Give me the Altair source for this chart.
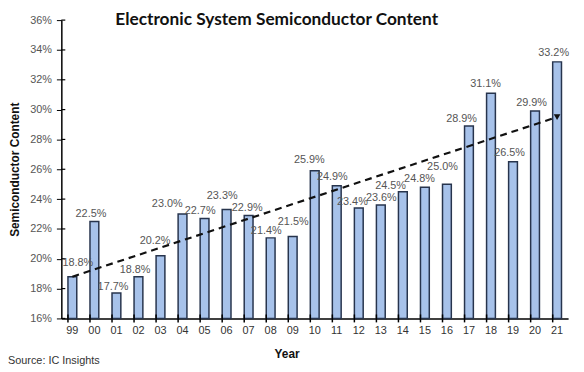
import altair as alt
import pandas as pd

years = ["99", "00", "01", "02", "03", "04", "05", "06", "07", "08", "09", "10",
         "11", "12", "13", "14", "15", "16", "17", "18", "19", "20", "21"]
content = [18.8, 22.5, 17.7, 18.8, 20.2, 23.0, 22.7, 23.3, 22.9, 21.4, 21.5, 25.9,
           24.9, 23.4, 23.6, 24.5, 24.8, 25.0, 28.9, 31.1, 26.5, 29.9, 33.2]
trend_years = ["99", "21"]
trend_values = [18.8, 29.5]
y_ticks = list(range(16, 37, 2))

# label nudges (pixels) used in the source to keep labels clear of the trend line
label_dx = [10, 1, 1, 1, -1, -11, 0, 0, 3, 0, 5, -1, 0, -2, 5, -8, -1, 0, -3, -1, 1, 1, 1]
label_dy = [14, 8, 6, 7, 15, 10, 8, 14, 8, 7, 15, 11, 9, 6, 7, 6, 8, 17, 7, 9, 9, 8, 9]

W, H = 513, 302
YMIN, YMAX = 16, 36

df = pd.DataFrame({"year": years, "value": content, "dx": label_dx, "dy": label_dy})
df["label"] = [f"{v:.1f}%" for v in content]
trend = pd.DataFrame({"year": trend_years, "value": trend_values})
arrow = trend.iloc[[1]]
tickdf = pd.DataFrame({"value": y_ticks})

xs = alt.Scale(domain=years, paddingInner=0.6, paddingOuter=0.3)
ys = alt.Scale(domain=[YMIN, YMAX], nice=False, zero=False)

x_axis = alt.Axis(labelAngle=0, labelFontSize=11, labelColor="#333",
                  labelPadding=6, ticks=False, domainColor="#000",
                  domainWidth=1.5, titleFontSize=12, titleFontWeight="bold",
                  titleColor="#111", titlePadding=14, titleX=228,
                  titleFont="Liberation Sans", labelFont="Liberation Sans")
y_axis = alt.Axis(values=y_ticks, labelExpr="datum.value + '%'",
                  labelOverlap=False, labelFontSize=11, labelColor="#555",
                  tickColor="#000", tickSize=5, domainColor="#000",
                  domainWidth=1.5, grid=False, titleFontSize=12,
                  titleFontWeight="bold", titleColor="#111", titleX=-40,
                  labelPadding=5, titleFont="Liberation Sans",
                  labelFont="Liberation Sans")


def X(field="year", **kw):
    return alt.X(f"{field}:N", scale=xs, sort=years, title="Year", axis=x_axis, **kw)


def Y(field="value"):
    return alt.Y(f"{field}:Q", scale=ys, title="Semiconductor Content", axis=y_axis)


bars = alt.Chart(df).mark_bar(fill="#a7c2ea", stroke="#27344d", strokeWidth=1.5).encode(
    x=X(), y=Y(), y2=alt.datum(YMIN))

labels = alt.Chart(df).transform_calculate(
    ly=f"datum.value + datum.dy * {(YMAX - YMIN) / H}"
).mark_text(fontSize=11, color="#555", font="Liberation Sans").encode(
    x=X(), y=Y("ly"), xOffset=alt.XOffset("dx:Q", scale=None), text="label:N")

xticks = alt.Chart(df).mark_rule(color="#000", strokeWidth=1.5).encode(
    x=X(bandPosition=0), y=alt.value(H - 4), y2=alt.value(H + 4))

yticks = alt.Chart(tickdf).mark_rule(color="#000", strokeWidth=1.2).encode(
    y=Y(), x=alt.value(0), x2=alt.value(4))

line = alt.Chart(trend).mark_line(color="#111", strokeWidth=2.2,
                                  strokeDash=[7, 5]).encode(x=X(), y=Y())

head = alt.Chart(arrow).mark_point(shape="triangle-down", filled=True, color="#111",
                                   size=45, opacity=1).encode(x=X(), y=Y())

title = alt.Chart(pd.DataFrame({"t": ["Electronic System Semiconductor Content"]})).mark_text(
    fontSize=17.5, fontWeight="bold", font="Lato", color="#111", align="center",
    baseline="alphabetic").encode(x=alt.value(218), y=alt.value(5), text="t:N")

source = alt.Chart(pd.DataFrame({"t": ["Source: IC Insights"]})).mark_text(
    fontSize=11, font="Liberation Sans", color="#333", align="left",
    baseline="middle").encode(x=alt.value(-54), y=alt.value(345), text="t:N")

chart = alt.layer(bars, xticks, yticks, labels, line, head, title, source).properties(
    width=W, height=H, autosize="none",
    padding={"left": 54, "top": 10, "right": 8, "bottom": 54},
    background="white",
).configure_view(stroke=None)

chart.save("out.html", embed_options={"renderer": "svg", "actions": False})
